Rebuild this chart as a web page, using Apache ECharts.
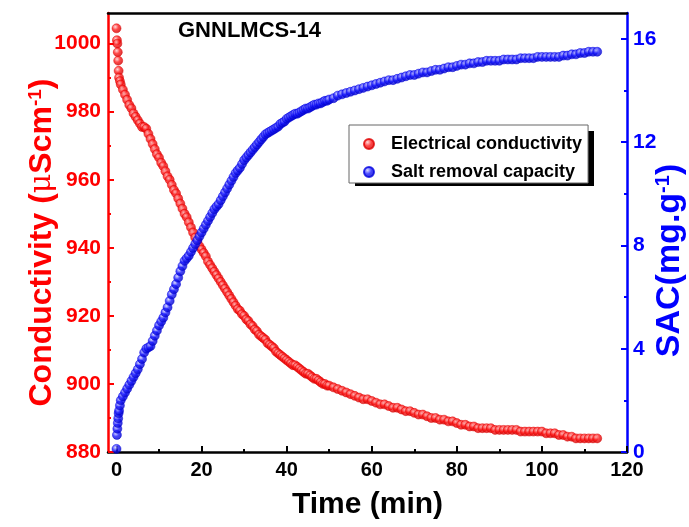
<!DOCTYPE html>
<html>
<head>
<meta charset="utf-8">
<script src="https://cdn.jsdelivr.net/npm/echarts@6/dist/echarts.min.js"></script>
<style>html,body{margin:0;padding:0;background:#fff}#c{width:689px;height:527px}</style>
</head>
<body>
<div id="c"></div>
<script>
// ---- data ----
var timeMin = [0,0.1,0.2,0.3,0.4,0.5,0.6,0.8,1,1.5,2,2.5,3,3.5,4,4.5,5,5.5,
  6,6.5,7,7.5,8,8.5,9,9.5,10,10.5,11,11.5,12,12.5,13,13.5,14,14.5,15,15.5,16,16.5,17,17.5,18,18.5,19,19.5,
  20,20.5,21,21.5,22,22.5,23,23.5,24,24.5,25,25.5,26,26.5,27,27.5,28,28.5,29,29.5,
  30,30.5,31,31.5,32,32.5,33,33.5,34,34.5,35,35.5,36,36.5,37,37.5,38,38.5,39,39.5,
  40,40.5,41,41.5,42,42.5,43,43.5,44,44.5,45,45.5,46,46.5,47,47.5,48,48.5,49,49.5,50,
  51,52,53,54,55,56,57,58,59,60,61,62,63,64,65,66,67,68,69,70,71,72,73,74,75,76,77,78,79,80,
  81,82,83,84,85,86,87,88,89,90,91,92,93,94,95,96,97,98,99,100,101,102,103,104,105,
  106,107,108,109,110,111,112,113];
var conductivity = [1004.5,1001,1000,997.5,995,992,990,989,988,986.5,985,983.5,982,981,979.5,978.5,977.5,976.5,
  975.5,975.5,975,973.5,972,970.5,969,967.5,966.5,965,964,962.5,961,960,958.5,957,956,954.5,953,951.5,950,949,947.5,946,944.5,943,942,940.5,
  939.5,938.5,937.5,936,935,934,933,932,931,930,929,928,927,926,925,924,923,922,921.5,920.5,
  920,919,918.5,917.5,917,916,915.5,914.5,914,913.5,913,912,911.5,911,910.5,909.5,909,908.5,908,907.5,
  907,906.5,906,905.5,905.5,905,904.5,904,903.5,903,903,902.5,902,901.5,901.5,901,900.5,900,900,899.5,899.5,
  899,898.5,898,897.5,897,896.5,896,895.5,895.5,895,894.5,894,894,893.5,893,893,892.5,892,892,891.5,891,891,890.5,890,890,889.5,889.5,889,889,888.5,
  888,888,887.5,887.5,887,887,887,887,886.5,886.5,886.5,886.5,886.5,886.5,886,886,886,886,886,886,885.5,885.5,885.5,885,885,
  884.5,884.5,884,884,884,884,884,884];
var sac = [0.12,0.66,0.9,1.12,1.3,1.5,1.6,1.8,2.0,2.15,2.3,2.45,2.6,2.75,2.9,3.05,3.2,3.4,
  3.6,3.85,4.0,4.05,4.1,4.3,4.5,4.7,4.9,5.05,5.2,5.4,5.6,5.85,6.1,6.3,6.5,6.75,7.0,7.2,7.4,7.5,7.6,7.75,7.9,8.05,8.2,8.35,
  8.5,8.65,8.8,8.95,9.1,9.25,9.4,9.5,9.6,9.75,9.9,10.05,10.2,10.35,10.5,10.65,10.8,10.9,11.0,11.15,
  11.3,11.4,11.5,11.6,11.7,11.8,11.9,12.0,12.1,12.2,12.3,12.35,12.4,12.45,12.5,12.55,12.6,12.7,12.75,12.8,
  12.9,12.95,13.0,13.05,13.1,13.1,13.15,13.2,13.25,13.3,13.3,13.35,13.4,13.45,13.45,13.5,13.5,13.55,13.6,13.6,13.65,
  13.7,13.8,13.85,13.9,13.95,14.0,14.05,14.1,14.15,14.2,14.25,14.3,14.35,14.4,14.4,14.45,14.5,14.55,14.6,14.6,14.65,14.7,14.7,14.75,14.8,14.8,14.85,14.9,14.9,14.95,
  15.0,15.0,15.05,15.05,15.1,15.1,15.15,15.15,15.15,15.15,15.2,15.2,15.2,15.2,15.25,15.25,15.25,15.25,15.3,15.3,15.3,15.3,15.3,15.3,15.35,
  15.35,15.4,15.4,15.45,15.45,15.5,15.5,15.5];
var xMajorTicks = [0,20,40,60,80,100,120];
var xMinorTicks = [10,30,50,70,90,110];
var condMajorTicks = [880,900,920,940,960,980,1000];
var condMinorTicks = [890,910,930,950,970,990];
var sacMajorTicks = [0,4,8,12,16];
var sacMinorTicks = [2,6,10,14];
var seriesNames = ['Electrical conductivity','Salt removal capacity'];
var chartTitle = 'GNNLMCS-14';

// ---- chart ----
var FF = 'Liberation Sans, Arial, sans-serif';
var RED = '#ff0000', BLUE = '#0000ff';
function pairs(xs, ys){ return xs.map(function(x,i){ return [x, ys[i]]; }); }
function plain(v){ return String(v); }
function ball(light, mid, dark){
  return {type:'radial', x:0.38, y:0.35, r:0.7, colorStops:[
    {offset:0,color:light},{offset:0.45,color:mid},{offset:1,color:dark}]};
}
var chart = echarts.init(document.getElementById('c'), null, {renderer:'canvas'});
var xBase = {type:'value', min:-2, max:120, splitLine:{show:false}, gridIndex:0};
var option = {
  backgroundColor:'#ffffff',
  animation:false,
  title:{text:chartTitle, left:178, top:20, padding:0,
    textStyle:{fontFamily:FF, fontSize:22, fontWeight:'bold', color:'#000'}},
  grid:{left:108, right:62, top:13, bottom:75, containLabel:false, outerBoundsMode:'none'},
  legend:{
    orient:'vertical', left:349, top:125, z:5,
    data:seriesNames,
    itemWidth:10, itemHeight:10, itemGap:10,
    padding:[10,6,2,14],
    backgroundColor:'#fff', borderColor:'#666', borderWidth:1,
    textStyle:{fontFamily:FF, fontSize:18, fontWeight:'bold', color:'#000', padding:[0,0,0,12]}
  },
  graphic:[{type:'rect', z:1, silent:true,
    shape:{x:355, y:131, width:239, height:55},
    style:{fill:'#000'}}],
  xAxis:[
    Object.assign({}, xBase, {position:'bottom',
      axisLine:{show:true, onZero:false, lineStyle:{color:'#000', width:2.5}},
      axisTick:{show:true, inside:true, length:6, customValues:xMajorTicks, lineStyle:{color:'#000', width:2}},
      axisLabel:{show:true, customValues:xMajorTicks, margin:8, color:'#000', fontFamily:FF, fontSize:20, fontWeight:'bold', formatter:plain},
      name:'Time (min)', nameLocation:'middle', nameGap:38, nameMoveOverlap:false,
      nameTextStyle:{fontFamily:FF, fontSize:30, fontWeight:'bold', color:'#000'}}),
    Object.assign({}, xBase, {position:'bottom',
      axisLine:{show:false, onZero:false},
      axisTick:{show:true, inside:true, length:3, customValues:xMinorTicks, lineStyle:{color:'#000', width:2}},
      axisLabel:{show:false}}),
    Object.assign({}, xBase, {position:'top',
      axisLine:{show:true, onZero:false, lineStyle:{color:'#000', width:2.5}},
      axisTick:{show:false}, axisLabel:{show:false}})
  ],
  yAxis:[
    {type:'value', min:880, max:1009, position:'left', splitLine:{show:false},
      axisLine:{show:true, onZero:false, lineStyle:{color:RED, width:2.5}},
      axisTick:{show:true, inside:true, length:6, customValues:condMajorTicks, lineStyle:{color:RED, width:2}},
      axisLabel:{show:true, customValues:condMajorTicks, margin:7, color:RED, fontFamily:FF, fontSize:21, fontWeight:'bold', formatter:plain},
      name:'{b|Conductivity (}{mu|\u03bc}{b|Scm}{sup|-1}{b|)}', nameLocation:'middle', nameGap:50, nameMoveOverlap:false,
      nameTextStyle:{color:RED, padding:[0,20,0,0], rich:{
        b:{fontFamily:FF, fontSize:32, fontWeight:'bold', color:RED},
        mu:{fontFamily:'DejaVu Serif, serif', fontSize:30, color:RED},
        sup:{fontFamily:FF, fontSize:19, fontWeight:'bold', color:RED, verticalAlign:'top'}}}},
    {type:'value', min:880, max:1009, position:'left', splitLine:{show:false},
      axisLine:{show:false, onZero:false},
      axisTick:{show:true, inside:true, length:3, customValues:condMinorTicks, lineStyle:{color:RED, width:2}},
      axisLabel:{show:false}},
    {type:'value', min:0, max:17, position:'right', splitLine:{show:false},
      axisLine:{show:true, onZero:false, lineStyle:{color:BLUE, width:2.5}},
      axisTick:{show:true, inside:true, length:6, customValues:sacMajorTicks, lineStyle:{color:BLUE, width:2}},
      axisLabel:{show:true, customValues:sacMajorTicks, margin:6, color:BLUE, fontFamily:FF, fontSize:21, fontWeight:'bold', formatter:plain},
      name:'{b|SAC(mg.g}{sup|-1}{b|)}', nameLocation:'middle', nameGap:26, nameMoveOverlap:false,
      nameTextStyle:{color:BLUE, padding:[0,56,0,0], rich:{
        b:{fontFamily:FF, fontSize:34, fontWeight:'bold', color:BLUE},
        sup:{fontFamily:FF, fontSize:20, fontWeight:'bold', color:BLUE, verticalAlign:'top'}}}},
    {type:'value', min:0, max:17, position:'right', splitLine:{show:false},
      axisLine:{show:false, onZero:false},
      axisTick:{show:true, inside:true, length:3, customValues:sacMinorTicks, lineStyle:{color:BLUE, width:2}},
      axisLabel:{show:false}}
  ],
  series:[
    {name:seriesNames[0], type:'scatter', xAxisIndex:0, yAxisIndex:0,
      symbol:'circle', symbolSize:9,
      itemStyle:{color:ball('#ffd0d0','#ff1a1a','#c40000'), borderColor:'#e00000', borderWidth:0.6},
      data:pairs(timeMin, conductivity)},
    {name:seriesNames[1], type:'scatter', xAxisIndex:0, yAxisIndex:2,
      symbol:'circle', symbolSize:9,
      itemStyle:{color:ball('#d0d0ff','#1a1aff','#0000b4'), borderColor:'#0000e0', borderWidth:0.6},
      data:pairs(timeMin, sac)}
  ]
};
chart.setOption(option);
</script>
</body>
</html>
